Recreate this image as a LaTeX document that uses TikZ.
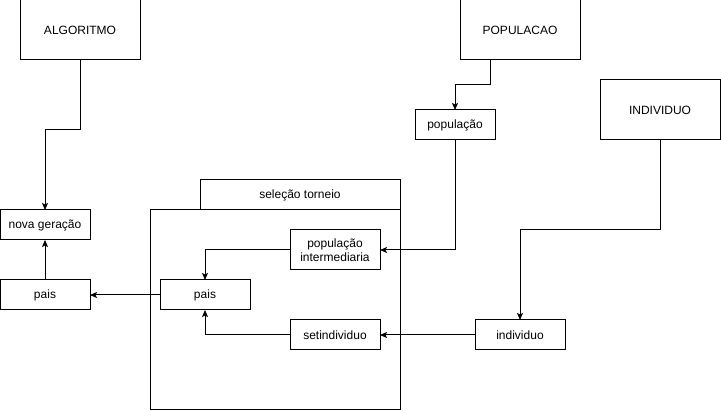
\documentclass[tikz,border=0pt]{standalone}
\usepackage{fontspec}
\setmainfont{Liberation Sans}
\usetikzlibrary{arrows.meta,positioning}
\begin{document}
\begin{tikzpicture}[x=1pt, y=-1pt,
    >={Stealth[length=7pt,width=6pt,inset=1.5pt]},
    every node/.append style={align=center, font=\fontsize{12}{14}\selectfont},
    box/.style={draw, line width=1pt, minimum width=90pt, minimum height=30pt, inner sep=0pt, outer sep=0pt},
    big/.style={box, minimum width=120pt, minimum height=60pt},
    line/.style={->, line width=1pt}]
    \useasboundingbox (0,0) rectangle (721,411);

   \node [big] (alg) at (80,30)  {ALGORITMO};
   \node [big] (pop) at (520,30) {POPULACAO};
   \node [big] (ind) at (660,110) {INDIVIDUO};
   \node [box, minimum width=80pt] (popu) at (455,125) {população};
   \node [box] (nova) at (45,225) {nova geração};
   \node [box, below=40pt of nova] (paisA) {pais};
   \node [box, minimum width=250pt, minimum height=200pt] (torneio) at (275,310) {};
   \node [box, minimum width=200pt, anchor=south east] (tit) at (torneio.north east) {seleção torneio};
   \node [box] (paisB) at (205,295) {pais};
   \node [box, minimum height=40pt] (inter) at (335,250) {população\\intermediaria};
   \node [box] (set) at (335,335) {setindividuo};
   \node [box] (indi) at (520,335) {individuo};

   \draw [line] (alg.south) -- ++(0,70) -| (nova);
   \draw [line] ([xshift=-30pt]pop.south) -- ++(0,25) -| (popu);
   \draw [line] (popu) |- (inter);
   \draw [line] (ind.south) -- ++(0,90) -| (indi);
   \draw [line] (indi) -- (set);
   \draw [line] (inter) -| (paisB);
   \draw [line] (set) -| (paisB);
   \draw [line] (paisB) -- (paisA);
   \draw [line] (paisA) -- (nova);
\end{tikzpicture}
\end{document}
